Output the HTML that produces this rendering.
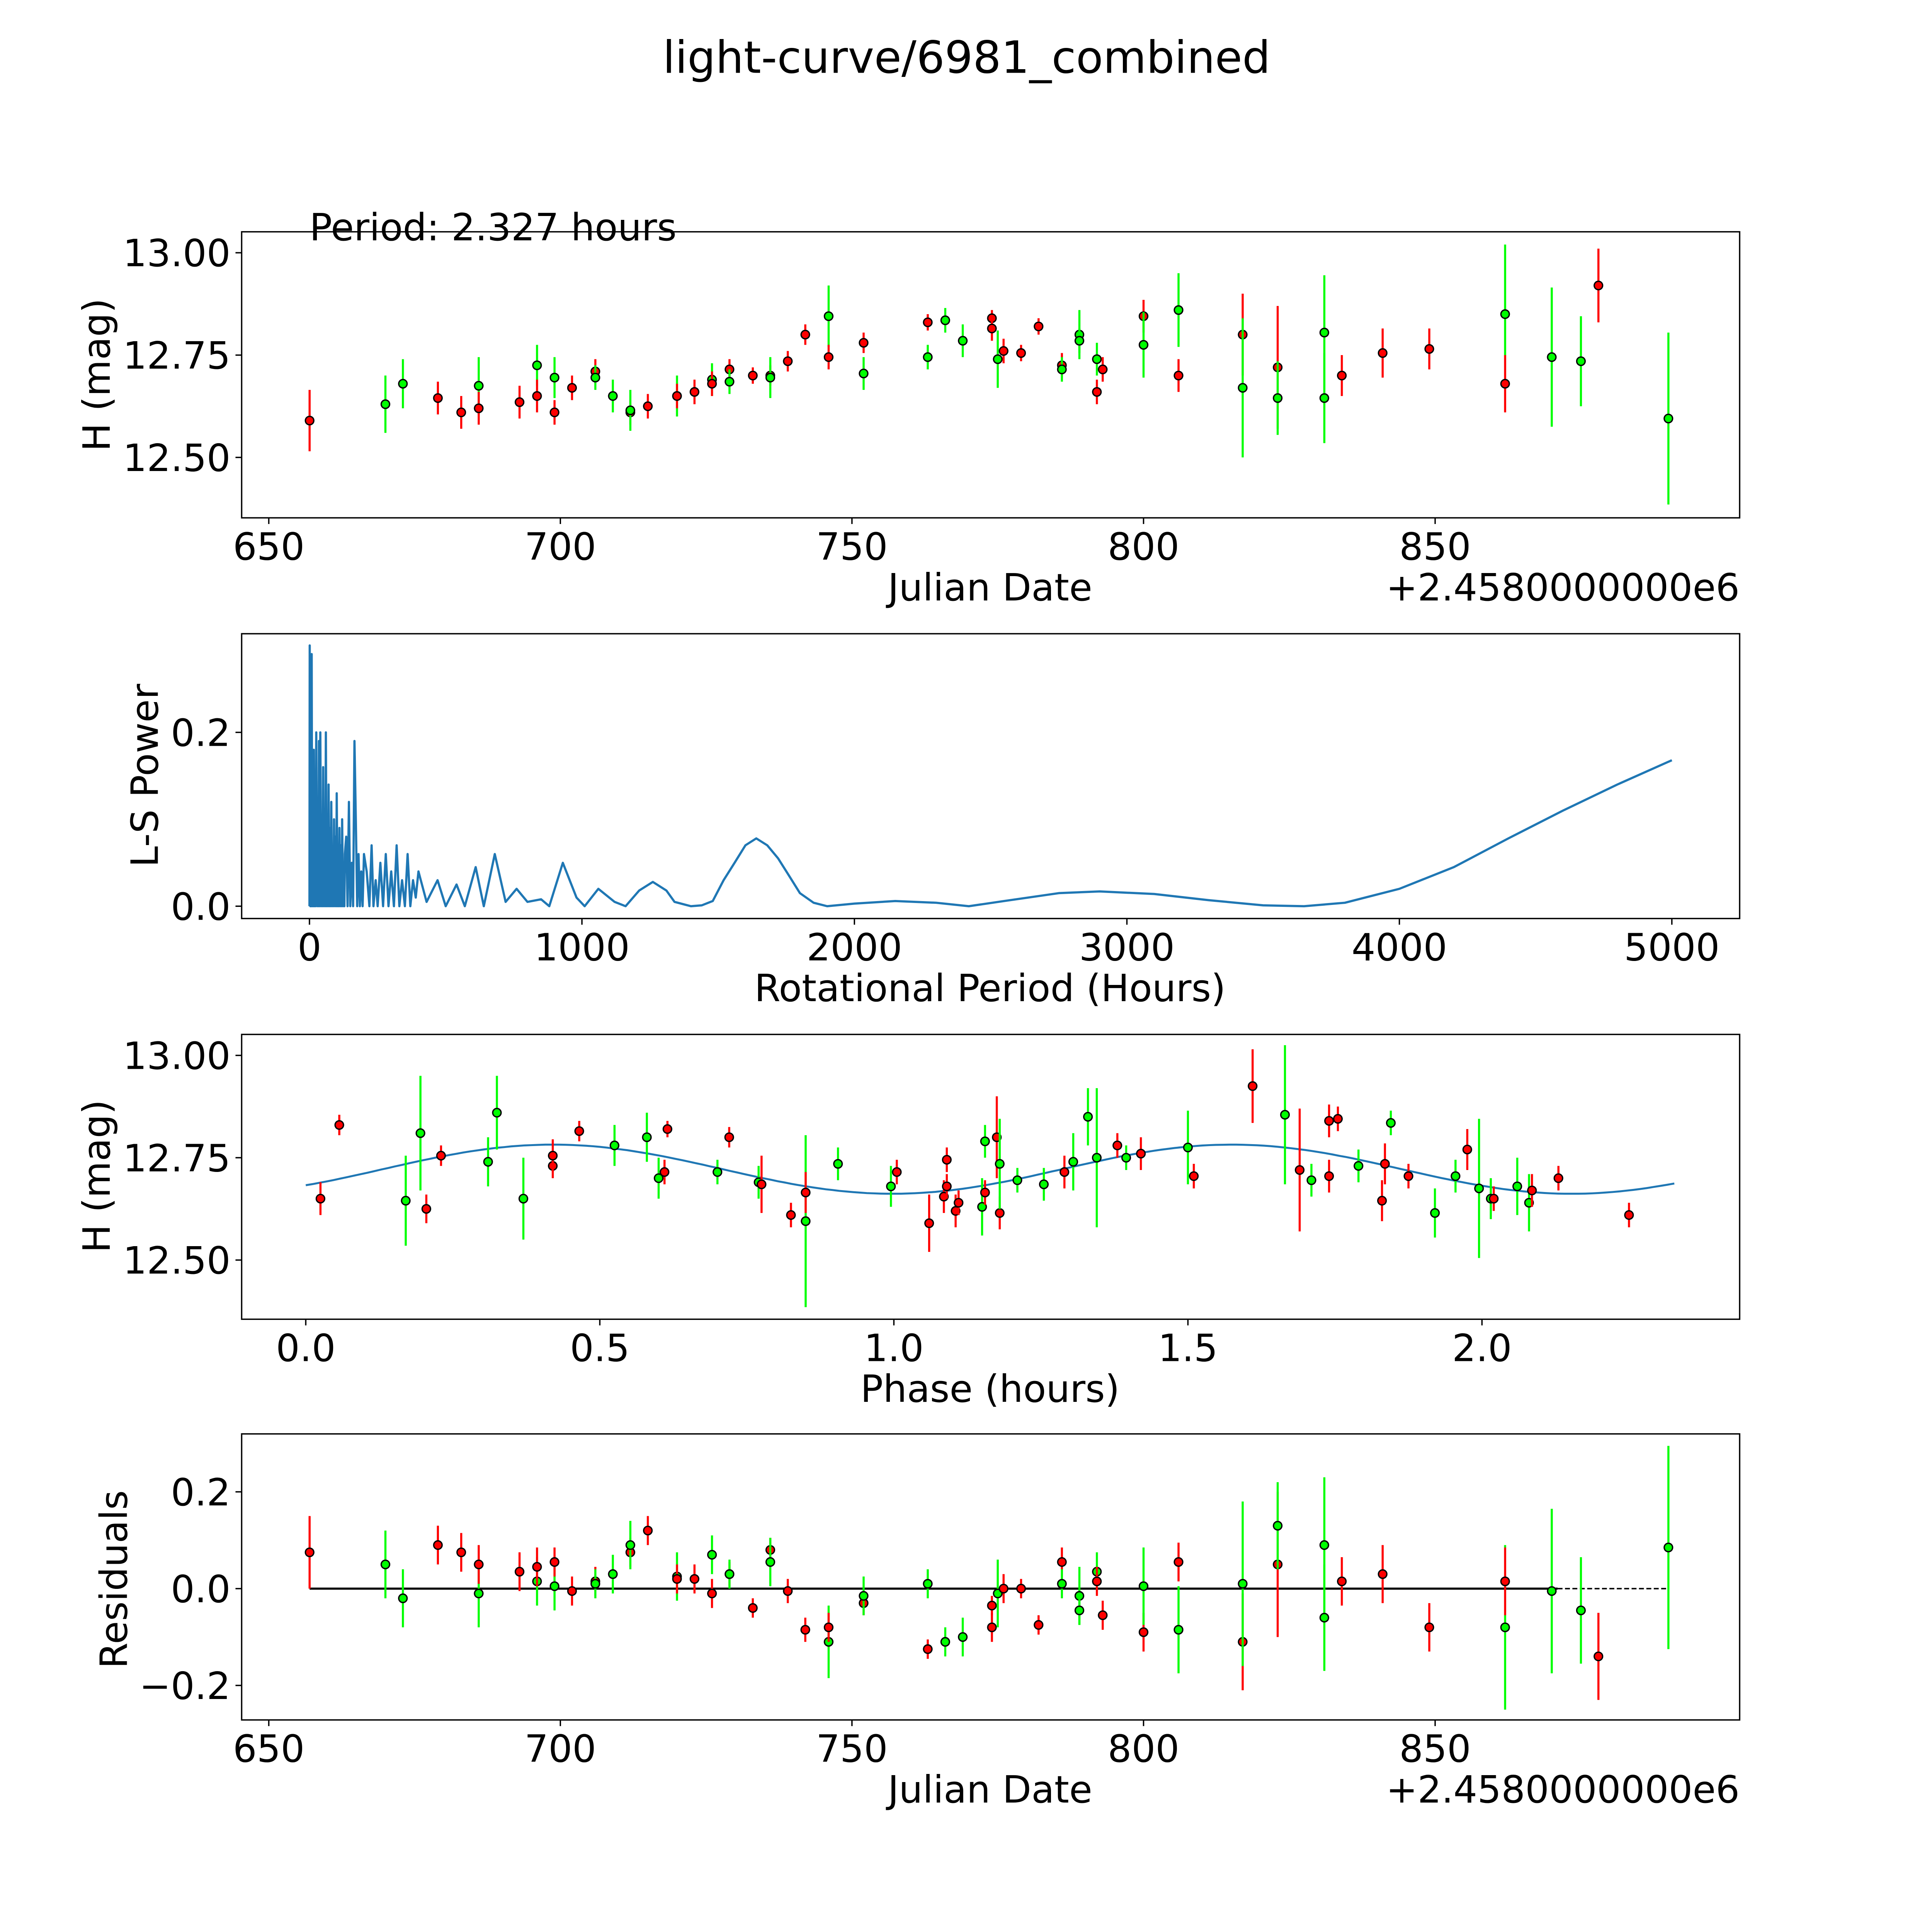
<!DOCTYPE html>
<html><head><meta charset="utf-8"><style>
html,body{margin:0;padding:0;background:#fff;width:100%;height:100%;overflow:hidden}
svg{display:block;position:fixed;left:0;top:0;width:100vw;height:100vh}
text{font-family:"DejaVu Sans","Liberation Sans",sans-serif;fill:#000}
</style></head><body>
<svg id="fig" viewBox="0 0 1567 1567" preserveAspectRatio="none" xmlns="http://www.w3.org/2000/svg">
<rect width="1567" height="1567" fill="#fff"/>
<text x="784" y="59" font-size="36" text-anchor="middle">light-curve/6981_combined</text>
<g id="layer"></g>
</svg>
<script>
// ---- data ----
const dates = [657,670,673,679,683,686,686,693,696,696,699,699,702,706,706,709,712,712,715,720,720,723,726,726,729,729,733,736,736,739,742,746,746,752,752,763,763,766,769,774,774,775,776,779,782,786,786,789,789,792,792,793,800,800,806,806,817,817,823,823,831,831,834,841,849,862,862,870,875,878,890];
const mags = [12.59,12.63,12.68,12.645,12.61,12.675,12.62,12.635,12.725,12.65,12.695,12.61,12.67,12.71,12.695,12.65,12.61,12.615,12.625,12.65,12.65,12.66,12.69,12.68,12.715,12.685,12.70,12.70,12.695,12.735,12.80,12.845,12.745,12.78,12.705,12.83,12.745,12.835,12.785,12.84,12.815,12.74,12.76,12.755,12.82,12.725,12.715,12.80,12.785,12.74,12.66,12.715,12.845,12.775,12.86,12.70,12.80,12.67,12.72,12.645,12.805,12.645,12.70,12.755,12.765,12.85,12.68,12.745,12.735,12.92,12.595];
const errs = [0.075,0.07,0.06,0.04,0.04,0.07,0.04,0.04,0.05,0.04,0.05,0.03,0.03,0.03,0.03,0.04,0.03,0.05,0.03,0.05,0.03,0.03,0.04,0.03,0.025,0.03,0.02,0.025,0.05,0.025,0.025,0.075,0.03,0.025,0.04,0.02,0.03,0.03,0.04,0.02,0.03,0.07,0.03,0.02,0.02,0.03,0.03,0.06,0.03,0.04,0.03,0.03,0.04,0.08,0.09,0.04,0.1,0.17,0.15,0.09,0.14,0.11,0.05,0.06,0.05,0.17,0.07,0.17,0.11,0.09,0.21];
const colors = "rggrrgrrgrgrrrggrgrgrrgrrgrrgrrgrrgrgggrrgrrrrggggrrrggrrgrgggrrrgrggrg";
const resids = [0.075,0.05,-0.02,0.09,0.075,-0.01,0.05,0.035,0.015,0.045,0.005,0.055,-0.005,0.015,0.01,0.03,0.075,0.09,0.12,0.025,0.02,0.02,0.07,-0.01,0.03,0.03,-0.04,0.08,0.055,-0.005,-0.085,-0.11,-0.08,-0.03,-0.015,-0.125,0.01,-0.11,-0.1,-0.035,-0.08,-0.01,0.0,0.0,-0.075,0.055,0.01,-0.015,-0.045,0.035,0.015,-0.055,-0.09,0.005,-0.085,0.055,-0.11,0.01,0.05,0.13,0.09,-0.06,0.015,0.03,-0.08,-0.08,0.015,-0.005,-0.045,-0.14,0.085];
const residColors = colors;

const phases = [0.025,0.057,0.17,0.195,0.205,0.23,0.31,0.325,0.37,0.42,0.42,0.465,0.525,0.58,0.6,0.61,0.615,0.70,0.72,0.77,0.775,0.825,0.85,0.85,0.905,0.995,1.005,1.06,1.085,1.09,1.09,1.105,1.11,1.15,1.155,1.155,1.175,1.18,1.18,1.21,1.255,1.29,1.305,1.33,1.345,1.38,1.395,1.42,1.50,1.51,1.61,1.665,1.69,1.71,1.74,1.74,1.755,1.79,1.845,1.835,1.83,1.875,1.92,1.955,1.975,1.995,2.015,2.02,2.06,2.08,2.085,2.13,2.25];
const phaseMags = [12.65,12.83,12.645,12.81,12.625,12.755,12.74,12.86,12.65,12.73,12.755,12.815,12.78,12.80,12.70,12.715,12.82,12.715,12.80,12.69,12.685,12.61,12.595,12.665,12.735,12.68,12.715,12.59,12.655,12.68,12.745,12.62,12.64,12.63,12.665,12.79,12.80,12.615,12.735,12.695,12.685,12.715,12.74,12.85,12.75,12.78,12.75,12.76,12.775,12.705,12.925,12.855,12.72,12.695,12.84,12.705,12.845,12.73,12.835,12.735,12.645,12.705,12.615,12.705,12.77,12.675,12.65,12.65,12.68,12.64,12.67,12.70,12.61];
const phaseErrs = [0.04,0.025,0.11,0.14,0.035,0.025,0.06,0.09,0.1,0.03,0.04,0.025,0.05,0.06,0.05,0.03,0.02,0.03,0.025,0.04,0.07,0.03,0.21,0.05,0.04,0.05,0.03,0.07,0.04,0.03,0.03,0.04,0.03,0.07,0.03,0.04,0.1,0.04,0.11,0.03,0.04,0.04,0.07,0.07,0.17,0.03,0.03,0.04,0.09,0.03,0.09,0.17,0.15,0.04,0.04,0.04,0.03,0.04,0.03,0.05,0.05,0.03,0.06,0.04,0.05,0.17,0.05,0.03,0.07,0.07,0.04,0.03,0.03];
const phaseColors = "rrggrrgggrrrgggrrgrgrrgrggrrrrrrrgrgrrgggrgggrgrgrrgrgrrrggrrrggrggrggrrr";

const periodHours = [0,1,3,4,6,8,10,12,14,16,18,20,22,25,28,30,33,35,38,40,43,45,48,50,53,55,58,60,63,65,68,70,73,75,78,80,83,85,88,90,93,95,98,100,103,105,108,110,113,115,118,120,123,125,128,130,135,140,145,150,155,160,165,170,175,180,185,190,195,200,210,220,228,235,243,250,260,270,280,290,300,310,320,330,340,350,360,370,380,390,400,430,470,500,540,570,610,640,680,720,760,800,850,880,930,980,1010,1060,1120,1160,1210,1260,1310,1340,1400,1440,1480,1520,1560,1600,1640,1680,1720,1760,1800,1850,1900,2000,2150,2300,2420,2550,2750,2900,3100,3300,3500,3650,3800,4000,4200,4400,4600,4800,5000];
const powerValues = [0,0.3,0,0.24,0,0.29,0,0.15,0,0.18,0,0.1,0,0.2,0,0.12,0,0.19,0,0.2,0,0.08,0,0.16,0,0.11,0,0.2,0,0.07,0,0.14,0,0.09,0,0.12,0,0.06,0,0.1,0,0.08,0,0.13,0,0.05,0,0.09,0,0.07,0,0.1,0,0.04,0,0.06,0.08,0,0.12,0,0.05,0,0.19,0.1,0,0.06,0,0.04,0,0.06,0.04,0,0.07,0,0.03,0,0.05,0,0.06,0,0.04,0,0.07,0,0.03,0,0.06,0,0.03,0.01,0.04,0.005,0.03,0.0,0.025,0.0,0.045,0.0,0.06,0.005,0.02,0.005,0.008,0.0,0.05,0.01,0.0,0.02,0.005,0.0,0.018,0.028,0.018,0.005,0.0,0.001,0.006,0.03,0.05,0.07,0.078,0.07,0.055,0.035,0.015,0.004,0.0,0.003,0.006,0.004,0.0,0.006,0.015,0.017,0.014,0.007,0.001,0.0,0.004,0.02,0.045,0.078,0.11,0.14,0.168];

const p1XTicks = [650,700,750,800,850];
const magTicks = [12.50,12.75,13.00];
const p2XTicks = [0,1000,2000,3000,4000,5000];
const p2YTicks = [0.0,0.2];
const phaseTicks = [0.0,0.5,1.0,1.5,2.0];
const residTicks = [-0.2,0.0,0.2];

// ---- helpers ----
const NS = "http://www.w3.org/2000/svg";
const layer = document.getElementById('layer');
function mk(tag, attrs, parent){ const e=document.createElementNS(NS,tag); for(const k in attrs) e.setAttribute(k,attrs[k]); (parent||layer).appendChild(e); return e; }
function lin(d0,d1,r0,r1){ return v => r0 + (v-d0)*(r1-r0)/(d1-d0); }
const COL = {r:'#ff0000', g:'#00ff00'};
const FS = 30.5;

function frame(name, L,T,R,B){
  const g = mk('g',{});
  
  
  const r = mk('rect',{x:L,y:T,width:R-L,height:B-T,fill:'none',stroke:'#000','stroke-width':1.1},g);
  
  
  return g;
}
function xTicks(g, ticks, sx, B, fmt, name){
  ticks.forEach(t=>{
    const x=sx(t);
    mk('line',{x1:x,x2:x,y1:B,y2:B+5,stroke:'#000','stroke-width':1.1},g);
    const tx = mk('text',{x:x,y:B+34,'font-size':FS,'text-anchor':'middle'},g);
    tx.textContent = fmt(t);
    
    
  });
}
function yTicks(g, ticks, sy, L, fmt, name){
  ticks.forEach(t=>{
    const y=sy(t);
    mk('line',{x1:L-5,x2:L,y1:y,y2:y,stroke:'#000','stroke-width':1.1},g);
    const tx = mk('text',{x:L-9,y:y+11,'font-size':FS,'text-anchor':'end'},g);
    tx.textContent = fmt(t);
    
    
  });
}
function label(g, txt, x, y, rot, name, anchor){
  const t = mk('text',{x:x,y:y,'font-size':FS,'text-anchor':anchor||'middle'},g);
  if(rot) t.setAttribute('transform','rotate(-90 '+x+' '+y+')');
  t.textContent = txt;
  
  
}
function point(g, x, y, ylo, yhi, c, name){
  const l = mk('line',{x1:x,x2:x,y1:ylo,y2:yhi,stroke:COL[c],'stroke-width':1.7},g);
  
  
  const p = mk('circle',{cx:x,cy:y,r:3.4,fill:COL[c],stroke:'#000','stroke-width':1.1},g);
  
  
}
const neg = v => (v<0?'\u2212':'') + Math.abs(v).toFixed(1);

// ---- panel 1 ----
(function(){
  const L=196,T=188,R=1411,B=420;
  const sx=lin(650,850,218,1164), sy=lin(12.5,13.0,371,205);
  const g=frame('light-curve-panel',L,T,R,B);
  dates.forEach((d,i)=>point(g,sx(d),sy(mags[i]),sy(mags[i]-errs[i]),sy(mags[i]+errs[i]),colors[i]||'r','mag-point'));
  xTicks(g,p1XTicks,sx,B,t=>String(t),'x');
  yTicks(g,magTicks,sy,L,t=>t.toFixed(2),'y');
  label(g,'Julian Date',803,487,false,'x-axis-title');
  label(g,'+2.4580000000e6',1411,487,false,'x-offset-label','end');
  label(g,'H (mag)',89,304,true,'y-axis-title');
  label(g,'Period: 2.327 hours',251,195,false,'period-annotation','start');
})();

// ---- panel 2 ----
(function(){
  const L=196,T=514,R=1411,B=745;
  const sx=lin(0,5000,251,1356), sy=lin(0,0.2,735,594);
  const g=frame('periodogram-panel',L,T,R,B);
  const pts = periodHours.map((p,i)=>sx(p).toFixed(1)+','+sy(powerValues[i]).toFixed(1)).join(' ');
  const pl = mk('polyline',{points:pts,fill:'none',stroke:'#1f77b4','stroke-width':1.8,'stroke-linejoin':'round'},g);
  
  
  xTicks(g,p2XTicks,sx,B,t=>String(t),'x');
  yTicks(g,p2YTicks,sy,L,t=>t.toFixed(1),'y');
  label(g,'Rotational Period (Hours)',803,812,false,'x-axis-title');
  label(g,'L-S Power',128,629,true,'y-axis-title');
})();

// ---- panel 3 ----
(function(){
  const L=196,T=839,R=1411,B=1070;
  const sx=lin(0,2.0,248,1202), sy=lin(12.5,13.0,1022,856);
  const g=frame('phase-panel',L,T,R,B);
  let pts=[];
  for(let k=0;k<=200;k++){ const ph=2.327*k/200; pts.push(sx(ph).toFixed(1)+','+sy(12.722+0.06*Math.cos(2*Math.PI*(ph-0.42)/1.155)).toFixed(1)); }
  const fit = mk('polyline',{points:pts.join(' '),fill:'none',stroke:'#1f77b4','stroke-width':1.6},g);
  
  
  phases.forEach((p,i)=>point(g,sx(p),sy(phaseMags[i]),sy(phaseMags[i]-phaseErrs[i]),sy(phaseMags[i]+phaseErrs[i]),phaseColors[i]||'r','phase-point'));
  xTicks(g,phaseTicks,sx,B,t=>t.toFixed(1),'x');
  yTicks(g,magTicks,sy,L,t=>t.toFixed(2),'y');
  label(g,'Phase (hours)',803,1137,false,'x-axis-title');
  label(g,'H (mag)',89,954,true,'y-axis-title');
})();

// ---- panel 4 ----
(function(){
  const L=196,T=1163,R=1411,B=1395;
  const sx=lin(650,850,218,1164), sy=lin(-0.2,0.2,1367,1210);
  const g=frame('residuals-panel',L,T,R,B);
  const z1 = mk('line',{x1:sx(657),x2:sx(871),y1:sy(0),y2:sy(0),stroke:'#000','stroke-width':1.7},g);
  
  
  const z2 = mk('line',{x1:sx(871),x2:sx(890),y1:sy(0),y2:sy(0),stroke:'#000','stroke-width':1.2,'stroke-dasharray':'4,2'},g);
  
  
  dates.forEach((d,i)=>{ const r=resids[i]; point(g,sx(d),sy(r),sy(r-errs[i]),sy(r+errs[i]),residColors[i]||'r','residual-point'); });
  xTicks(g,p1XTicks,sx,B,t=>String(t),'x');
  yTicks(g,residTicks,sy,L,neg,'y');
  label(g,'Julian Date',803,1462,false,'x-axis-title');
  label(g,'+2.4580000000e6',1411,1462,false,'x-offset-label','end');
  label(g,'Residuals',103,1281,true,'y-axis-title');
})();
</script>
</body></html>
